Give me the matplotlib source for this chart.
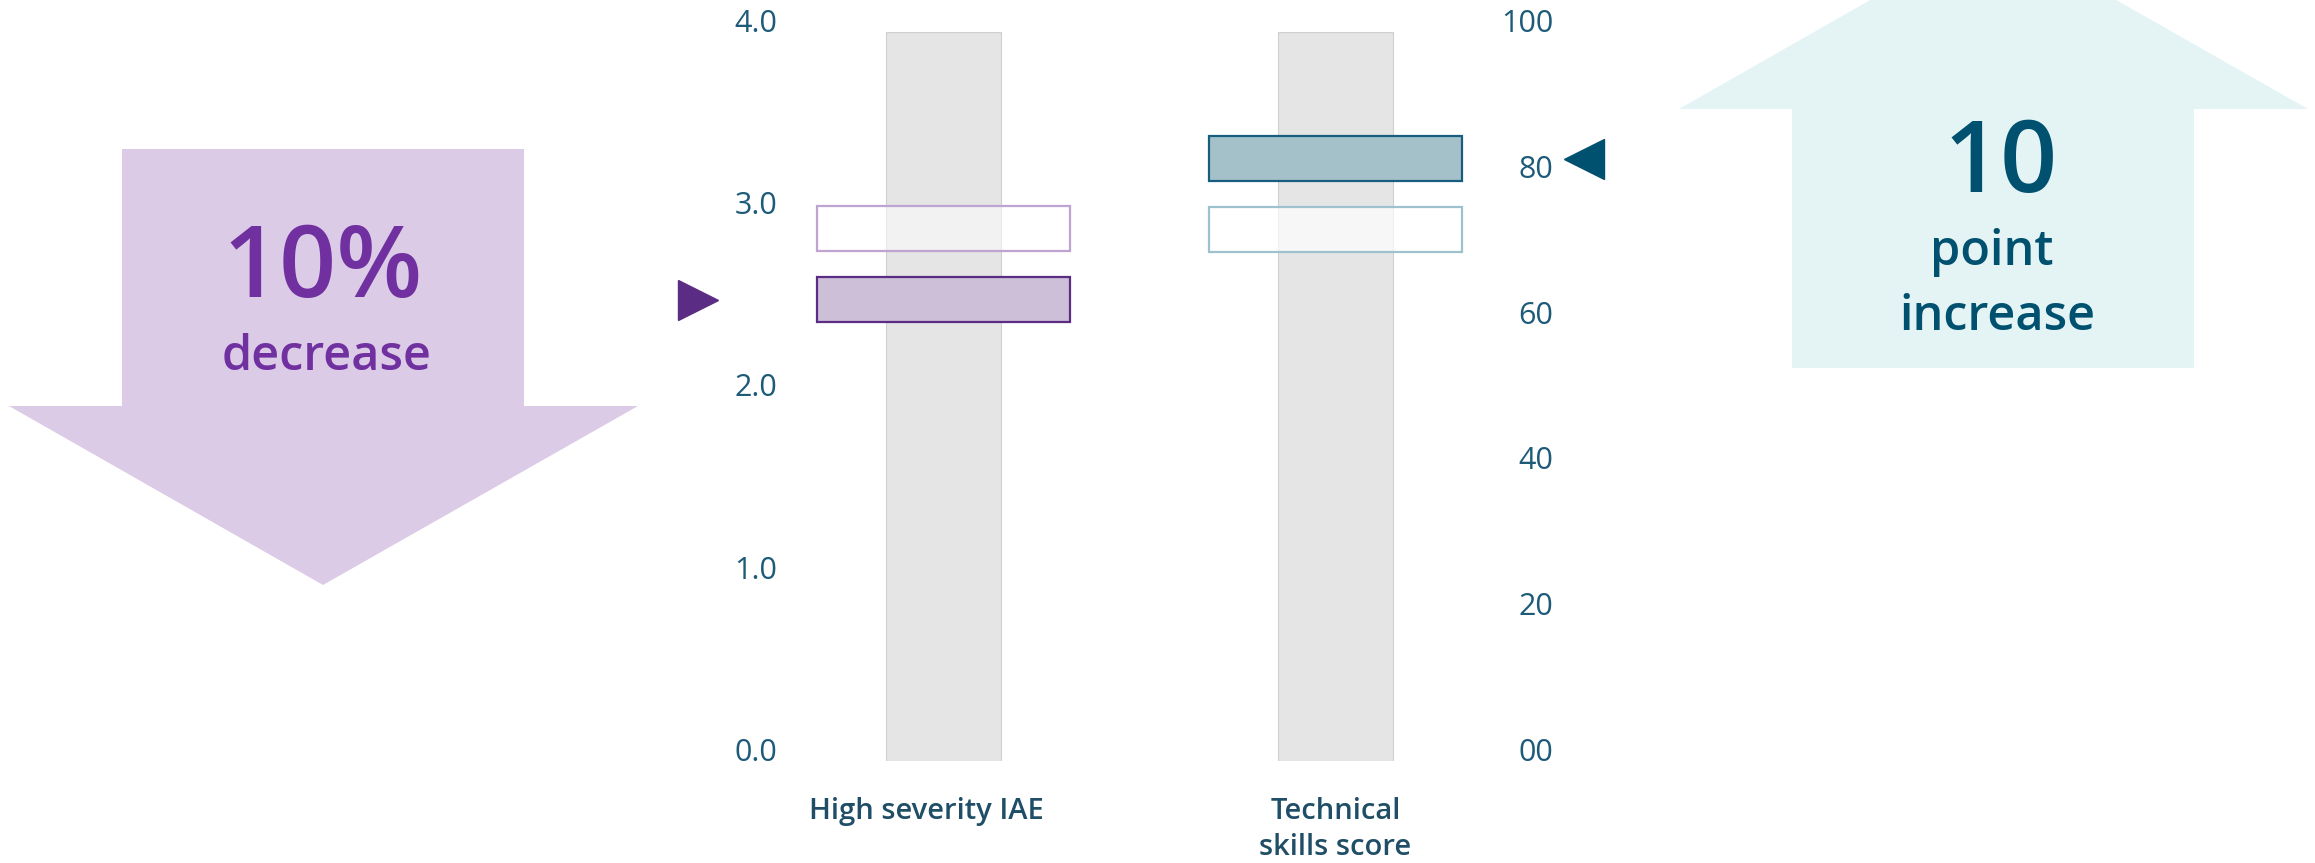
import matplotlib.pyplot as plt
from matplotlib.patches import Polygon
from matplotlib.transforms import ScaledTranslation

plt.rcParams['font.family'] = ['Open Sans', 'Noto Sans', 'DejaVu Sans']

# data
categories = ["High severity IAE", "Technical\nskills score"]
scale_max = [4.0, 100]
before = [2.92, 72.9]
after = [2.53, 82.6]
left_ticks = [0, 1, 2, 3, 4]
left_labels = ["0.0", "1.0", "2.0", "3.0", "4.0"]
right_ticks = [0, 20, 40, 60, 80, 100]
right_labels = ["00", "20", "40", "60", "80", "100"]
change_big = ["10%", "10"]
change_small = ["decrease", "point", "increase"]

# colours
purple_txt = '#7030A0'
purple_dark = '#5B2C83'
teal_dark = '#00506F'
tick_col = '#1D5B79'
cat_col = '#1F4E66'

W, H = 2315, 863
fig = plt.figure(figsize=(W / 100, H / 100), dpi=100)


def px(x0, y0, x1, y1):
    return [x0 / W, 1 - y1 / H, (x1 - x0) / W, (y1 - y0) / H]


# background layer with the two arrows (pixel coords)
bg = fig.add_axes([0, 0, 1, 1])
bg.set_xlim(0, W)
bg.set_ylim(H, 0)
bg.axis('off')

down = [(122, 149), (524, 149), (524, 406), (638, 406), (323, 585), (9, 406), (122, 406)]
up = [(1792, 368), (2194, 368), (2194, 109), (2308, 109), (1993, -70), (1679, 109), (1792, 109)]
bg.add_patch(Polygon(down, closed=True, facecolor='#DCCBE6', edgecolor='none'))
bg.add_patch(Polygon(up, closed=True, facecolor='#E4F4F5', edgecolor='none'))

bg.text(323, 297, change_big[0], fontsize=72, fontweight=600, color=purple_txt, ha='center', va='baseline')
bg.text(327, 370, change_small[0], fontsize=35, fontweight=600, color=purple_txt, ha='center', va='baseline')
bg.text(2001, 192, change_big[1], fontsize=72, fontweight=600, color=teal_dark, ha='center', va='baseline')
bg.text(1992, 265, change_small[1], fontsize=35, fontweight=600, color=teal_dark, ha='center', va='baseline')
bg.text(1997, 330, change_small[2], fontsize=35, fontweight=600, color=teal_dark, ha='center', va='baseline')

# main chart
ax = fig.add_axes(px(797, 32, 1484, 761))
ax.patch.set_alpha(0)
ax.set_xlim(-0.374, 1.379)
ax.set_ylim(0, scale_max[0])
ax2 = ax.twinx()
ax2.set_ylim(0, scale_max[1])

bar_w = 0.295
box_w = 0.644
h0 = 0.247
h1 = 6.17

ax.bar(0, scale_max[0], width=bar_w, color='#E5E5E5', edgecolor='#CFCFCF', lw=0.8, zorder=1)
ax2.bar(1, scale_max[1], width=bar_w, color='#E5E5E5', edgecolor='#CFCFCF', lw=0.8, zorder=1)

ax.bar(0, h0, bottom=before[0] - h0 / 2, width=box_w, facecolor=(1, 1, 1, 0.5),
       edgecolor='#BFA3D1', lw=1.6, zorder=2)
ax.bar(0, h0, bottom=after[0] - h0 / 2, width=box_w, facecolor='#CDBFD8',
       edgecolor=purple_dark, lw=1.6, zorder=2)
ax2.bar(1, h1, bottom=before[1] - h1 / 2, width=box_w, facecolor=(1, 1, 1, 0.7),
        edgecolor='#9DC1CD', lw=1.6, zorder=2)
ax2.bar(1, h1, bottom=after[1] - h1 / 2, width=box_w, facecolor='#A4C1CA',
        edgecolor='#175E7E', lw=1.6, zorder=2)

ax.plot([-0.626], [after[0]], marker='>', ms=29, color=purple_dark, ls='none', clip_on=False)
ax2.plot([1.634], [after[1]], marker='<', ms=29, color=teal_dark, ls='none', clip_on=False)

for a in (ax, ax2):
    for s in a.spines.values():
        s.set_visible(False)

ax.set_yticks(left_ticks, left_labels)
ax.tick_params(axis='y', length=0, pad=14, labelsize=22, labelcolor=tick_col)
for lab in ax.get_yticklabels():
    lab.set_va('baseline')

ax2.set_yticks(right_ticks, right_labels)
ax2.tick_params(axis='y', length=0, pad=50, labelsize=22, labelcolor=tick_col)
for lab in ax2.get_yticklabels():
    lab.set_va('baseline')
    lab.set_ha('right')

ax.set_xticks([0, 1], categories)
ax.tick_params(axis='x', length=0, pad=26, labelsize=21, labelcolor=cat_col)
for lab in ax.get_xticklabels():
    lab.set_fontweight(600)
    lab.set_linespacing(1.3)
ax.get_xticklabels()[0].set_transform(
    ax.get_xticklabels()[0].get_transform() + ScaledTranslation(-0.17, 0, fig.dpi_scale_trans))
ax2.tick_params(axis='x', length=0)

fig.savefig('out.png', dpi=100)
